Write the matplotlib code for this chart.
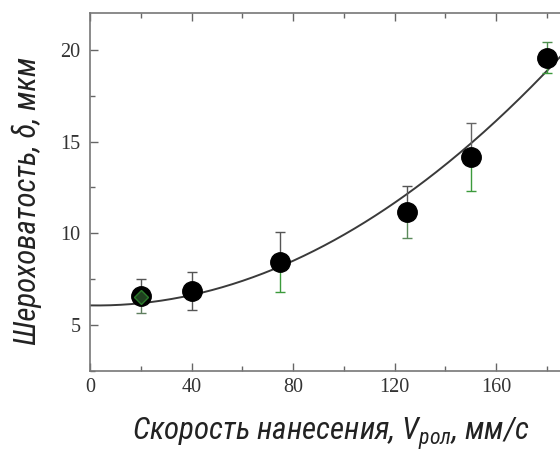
import numpy as np
import matplotlib
matplotlib.use("Agg")
import matplotlib.pyplot as plt
from matplotlib import font_manager as fm
from matplotlib.ticker import MultipleLocator

# data
speed = [20, 40, 75, 125, 150, 180]
rough = [6.58, 6.85, 8.45, 11.14, 14.18, 19.57]
err_up = [0.95, 1.02, 1.64, 1.44, 1.82, 0.86]
err_dn = [0.91, 1.05, 1.67, 1.38, 1.86, 0.81]
low_colors = ['#5f7f5f', '#555555', '#3c9a3c', '#5b8a5b', '#3c9a3c', '#3c9a3c']
up_colors = ['#555555', '#555555', '#555555', '#555555', '#666666', '#4f8f4f']
xticks = [0, 40, 80, 120, 160]
yticks = [5, 10, 15, 20]

# trend line as traced on the picture
curve_x = [0, 20, 40, 60, 80, 100, 125, 150, 180, 185]
curve_y = [6.04, 6.2, 6.6, 7.4, 8.55, 10.0, 12.05, 14.8, 18.9, 19.6]

xlabel = 'Скорость нанесения, $\\mathit{V}_{\\mathit{рол}}$, мм/с'
ylabel = 'Шероховатость, δ, мкм'

names = {f.name for f in fm.fontManager.ttflist}
label_family = 'DejaVu Sans'
for cand in ['Liberation Sans Narrow', 'Roboto Condensed', 'Open Sans Condensed']:
    if cand in names:
        label_family = cand
        break
serif = 'Liberation Serif' if 'Liberation Serif' in names else 'DejaVu Serif'

plt.rcParams['mathtext.fontset'] = 'custom'
plt.rcParams['mathtext.it'] = label_family + ':italic'
plt.rcParams['mathtext.rm'] = label_family

fig = plt.figure(figsize=(5.6, 4.51), dpi=100)
# axes runs past the right edge, the picture is cropped there
ax = fig.add_axes([90 / 560, 80.3 / 451, 507.5 / 560, 357.4 / 451])

# smooth the traced curve with a quadratic (it is a trend line)
coef = np.polyfit(curve_x, curve_y, 2)
xs = np.linspace(0, 200, 300)
ax.plot(xs, np.polyval(coef, xs), color='#3a3a3a', lw=1.4, zorder=2)

for i in range(len(speed)):
    ax.errorbar(speed[i], rough[i], yerr=[[0], [err_up[i]]], fmt='none',
                ecolor=up_colors[i], elinewidth=1.0, capsize=3.8, capthick=1.0, zorder=3)
    ax.errorbar(speed[i], rough[i], yerr=[[err_dn[i]], [0]], fmt='none',
                ecolor=low_colors[i], elinewidth=1.0, capsize=3.8, capthick=1.0, zorder=3)

ax.plot(speed, rough, 'o', color='black', ms=14, zorder=4)
ax.plot(speed[0], rough[0] - 0.05, 'D', mfc='#1f3f1f', mec='#2a7a2a', mew=1.0, ms=7.5, zorder=5)

ax.set_xlim(0, 200)
ax.set_ylim(2.5, 22)
ax.set_xticks(xticks)
ax.set_yticks(yticks)
ax.xaxis.set_minor_locator(MultipleLocator(20))
ax.yaxis.set_minor_locator(MultipleLocator(2.5))
ax.tick_params(which='both', direction='in', top=True, right=True, colors='#666666')
ax.tick_params(which='major', length=6, width=1.0, labelsize=14.5, labelcolor='#333333', pad=5)
ax.tick_params(which='minor', length=3.5, width=1.0)
ax.tick_params(axis='y', which='major', pad=7)
for lab in ax.get_xticklabels() + ax.get_yticklabels():
    lab.set_family(serif)
for sp in ax.spines.values():
    sp.set_color('#777777')
    sp.set_linewidth(1.2)

tx = fig.text(331 / 560, 1 - 434 / 451, xlabel, ha='center', va='center',
              family=label_family, style='italic', fontsize=20, color='#222222')
ty = fig.text(27 / 560, 1 - 201 / 451, ylabel, ha='center', va='center', rotation=90,
              family=label_family, style='italic', fontsize=20, color='#222222')

# fit label sizes to the lengths seen in the picture
fig.canvas.draw()
r = fig.canvas.get_renderer()
tx.set_fontsize(20 * 398 / tx.get_window_extent(r).width)
ty.set_fontsize(20 * 288 / ty.get_window_extent(r).height)

fig.savefig('out.png', dpi=100)
